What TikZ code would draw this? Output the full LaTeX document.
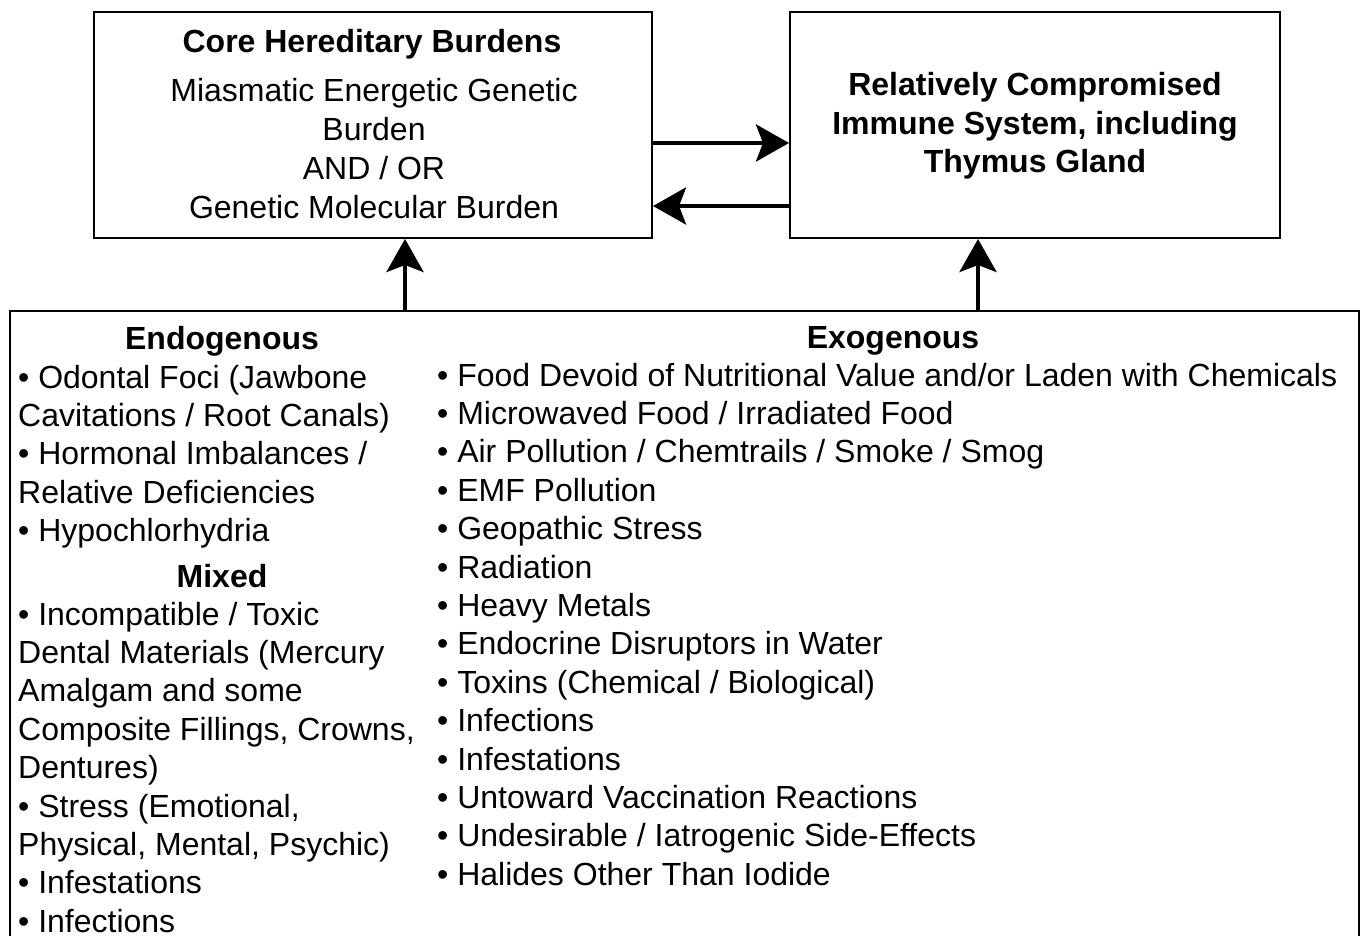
\documentclass[tikz,border=0pt]{standalone}
\usepackage{fontspec}
\setmainfont{Liberation Sans}
\usetikzlibrary{arrows.meta}
\begin{document}
\begin{tikzpicture}[x=1pt,y=-1pt,
  box/.style={draw=black,line width=2pt,fill=none},
  txt/.style={inner sep=0pt,font=\fontsize{32}{38.4}\selectfont},
  lft/.style={txt,anchor=base west},
  ctr/.style={txt,anchor=base},
  hd/.style={txt,anchor=base,font=\fontsize{32}{38.4}\selectfont\bfseries},
  conn/.style={line width=4.5pt,-{Stealth[length=33pt,width=37pt,inset=7pt]}}]
\useasboundingbox (0,0) rectangle (1364,936);
\fill[white] (0,0) rectangle (1364,936);
% boxes
\node[box,minimum width=558pt,minimum height=226pt,anchor=north west,inner sep=0pt] (core) at (93,11) {};
\node[box,minimum width=490pt,minimum height=226pt,anchor=north west,inner sep=0pt] (imm) at (789,11) {};
\draw[line width=2pt] (10,960) -- (10,311) -- (1359,311) -- (1359,960);
\coordinate (bl) at (405,311);
\coordinate (br) at (978,311);
% top-left text
\node[hd] (t1) at (372,53) {Core Hereditary Burdens};
\node[ctr] (t2) at (374,102) {Miasmatic Energetic Genetic};
\node[ctr] (t3) at (374,141) {Burden};
\node[ctr] (t4) at (374,179) {AND / OR};
\node[ctr] (t5) at (374,218) {Genetic Molecular Burden};
% top-right text
\node[hd] (r1) at (1035,96) {Relatively Compromised};
\node[hd] (r2) at (1035,135) {Immune System, including};
\node[hd] (r3) at (1035,173) {Thymus Gland};
% arrows
\draw[conn] (core.east |- 0,143) -- (imm.west |- 0,143);
\draw[conn] (imm.west |- 0,206) -- (core.east |- 0,206);
\draw[conn] (bl) -- (bl |- core.south);
\draw[conn] (br) -- (br |- imm.south);
% endogenous / mixed
\node[hd] (en) at (222,349) {Endogenous};
\node[lft] (e1) at (18,388) {• Odontal Foci (Jawbone};
\node[lft] (e2) at (18,426.4) {Cavitations / Root Canals)};
\node[lft] (e3) at (18,464.8) {• Hormonal Imbalances /};
\node[lft] (e4) at (18,503.2) {Relative Deficiencies};
\node[lft] (e5) at (18,541.6) {• Hypochlorhydria};
\node[hd] (mx) at (222,587) {Mixed};
\node[lft] (m1) at (18,625) {• Incompatible / Toxic};
\node[lft] (m2) at (18,663.4) {Dental Materials (Mercury};
\node[lft] (m3) at (18,701.8) {Amalgam and some};
\node[lft] (m4) at (18,740.2) {Composite Fillings, Crowns,};
\node[lft] (m5) at (18,778.6) {Dentures)};
\node[lft] (m6) at (18,817) {• Stress (Emotional,};
\node[lft] (m7) at (18,855.4) {Physical, Mental, Psychic)};
\node[lft] (m8) at (18,893.8) {• Infestations};
\node[lft] (m9) at (18,932.2) {• Infections};
% exogenous
\node[hd] (ex) at (893,348) {Exogenous};
\foreach \t [count=\i from 0] in {%
  {• Food Devoid of Nutritional Value and/or Laden with Chemicals},
  {• Microwaved Food / Irradiated Food},
  {• Air Pollution / Chemtrails / Smoke / Smog},
  {• EMF Pollution},
  {• Geopathic Stress},
  {• Radiation},
  {• Heavy Metals},
  {• Endocrine Disruptors in Water},
  {• Toxins (Chemical / Biological)},
  {• Infections},
  {• Infestations},
  {• Untoward Vaccination Reactions},
  {• Undesirable / Iatrogenic Side-Effects},
  {• Halides Other Than Iodide}}
  \node[lft] (x\i) at (437,386+38.4*\i) {\t};
\end{tikzpicture}
\end{document}
